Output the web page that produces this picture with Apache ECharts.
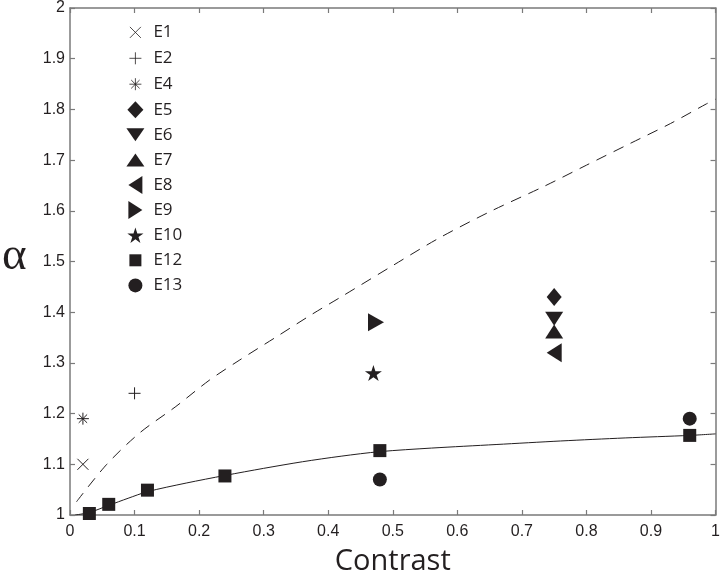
<!DOCTYPE html>
<html>
<head>
<meta charset="utf-8">
<script src="https://cdn.jsdelivr.net/npm/echarts@6/dist/echarts.min.js"></script>
<style>html,body{margin:0;padding:0;background:#fff}#c{width:723px;height:581px}</style>
</head>
<body>
<div id="c"></div>
<script>
// ---- data ----
var xTicks = [0, 0.1, 0.2, 0.3, 0.4, 0.5, 0.6, 0.7, 0.8, 0.9, 1];
var yTicks = [1, 1.1, 1.2, 1.3, 1.4, 1.5, 1.6, 1.7, 1.8, 1.9, 2];

var E1  = [[0.02, 1.10]];
var E2  = [[0.10, 1.24]];
var E4  = [[0.02, 1.19]];
var E5  = [[0.75, 1.43]];
var E6  = [[0.75, 1.387]];
var E7  = [[0.75, 1.362]];
var E8  = [[0.75, 1.32]];
var E9  = [[0.474, 1.38]];
var E10 = [[0.47, 1.28]];
var E12 = [[0.03, 1.003], [0.06, 1.021], [0.12, 1.049], [0.24, 1.077], [0.48, 1.127], [0.96, 1.157]];
var E13 = [[0.48, 1.07], [0.96, 1.19]];

var solidX = [0.008, 0.03, 0.06, 0.09, 0.12, 0.18, 0.24, 0.30, 0.36, 0.42, 0.48, 0.56, 0.66, 0.76, 0.86, 0.96, 1.0];
var solidY = [1.000, 1.005, 1.019, 1.033, 1.046, 1.063, 1.078, 1.092, 1.105, 1.116, 1.125, 1.132, 1.139, 1.146, 1.152, 1.157, 1.160];

var dashX = [0.01, 0.057, 0.108, 0.164, 0.216, 0.262, 0.318, 0.375, 0.421, 0.50, 0.570, 0.65, 0.734, 0.80, 0.868, 0.93, 0.986, 1.0];
var dashY = [1.026, 1.100, 1.162, 1.214, 1.266, 1.305, 1.350, 1.396, 1.431, 1.492, 1.545, 1.598, 1.648, 1.690, 1.733, 1.772, 1.811, 1.820];

// ---- styling ----
var INK = '#231f20';
var AXIS = '#7a7a7a';
var SYM = {
  E1: 'path://M0,0L10,10M10,0L0,10',
  E2: 'path://M5,0L5,10M0,5L10,5',
  E4: 'path://M5,0L5,10M0,5L10,5M1.5,1.5L8.5,8.5M8.5,1.5L1.5,8.5',
  E5: 'path://M5,0L10,6L5,12L0,6Z',
  E6: 'path://M0,0L10,0L5,8Z',
  E7: 'path://M5,0L10,8L0,8Z',
  E8: 'path://M8,0L8,10L0,5Z',
  E9: 'path://M0,0L8,5L0,10Z',
  E10: 'path://M10,0L12.245,6.91L19.51,6.91L13.63,11.18L15.88,18.09L10,13.82L4.12,18.09L6.37,11.18L0.49,6.91L7.755,6.91Z',
  E12: 'rect',
  E13: 'circle'
};
var SIZE = {
  E1: 11, E2: 12, E4: 12, E5: [15, 18], E6: [18, 14], E7: [18, 14],
  E8: [15, 19], E9: [16, 18], E10: [17, 16], E12: 13, E13: 14
};
// legend icons drawn in a fixed 20x20 box (corner moveTo's pin the box)
var BOX = 'path://M0,0M20,20';
var ICON = {
  E1: BOX + 'M4.5,4.5L15.5,15.5M15.5,4.5L4.5,15.5',
  E2: BOX + 'M10,4L10,16M4,10L16,10',
  E4: BOX + 'M10,4L10,16M4,10L16,10M5.8,5.8L14.2,14.2M14.2,5.8L5.8,14.2',
  E5: BOX + 'M10,1.5L18,10L10,18.5L2,10Z',
  E6: BOX + 'M1,3.5L19,3.5L10,16.5Z',
  E7: BOX + 'M10,3.5L19,16.5L1,16.5Z',
  E8: BOX + 'M3,10L17,1L17,19Z',
  E9: BOX + 'M3,1L17,10L3,19Z',
  E10: BOX + 'M10,2.31L11.91,8.18L18.08,8.18L13.09,11.81L15,17.68L10,14.05L5,17.68L6.91,11.81L1.92,8.18L8.09,8.18Z',
  E12: BOX + 'M4,4L16,4L16,16L4,16Z',
  E13: BOX + 'M3,10A7,7 0 1,1 17,10A7,7 0 1,1 3,10Z'
};
var LINEONLY = {E1: true, E2: true, E4: true};

function zip(xs, ys) { return xs.map(function (x, i) { return [x, ys[i]]; }); }

var markerSets = [['E1', E1], ['E2', E2], ['E4', E4], ['E5', E5], ['E6', E6], ['E7', E7],
  ['E8', E8], ['E9', E9], ['E10', E10], ['E12', E12], ['E13', E13]];

var series = [
  {type: 'line', name: 'fitSolid', data: zip(solidX, solidY), showSymbol: false, smooth: 0.3,
   lineStyle: {color: INK, width: 1}, silent: true, z: 1},
  {type: 'line', name: 'fitDash', data: zip(dashX, dashY), showSymbol: false, smooth: 0.3,
   lineStyle: {color: INK, width: 1, type: [11, 8]}, silent: true, z: 1}
];
markerSets.forEach(function (m) {
  var n = m[0];
  series.push({
    type: 'scatter', name: n, data: m[1], symbol: SYM[n], symbolSize: SIZE[n], z: 3,
    itemStyle: LINEONLY[n] ? {color: 'rgba(0,0,0,0)', borderColor: INK, borderWidth: 1, opacity: 1}
                           : {color: INK, opacity: 1}
  });
});

var axisCommon = {
  axisLine: {show: true, onZero: false, lineStyle: {color: AXIS, width: 1.5}},
  axisTick: {show: true, inside: true, length: 5, lineStyle: {color: AXIS, width: 1.2}},
  splitLine: {show: false}
};

var chart = echarts.init(document.getElementById('c'), null, {renderer: 'canvas'});
chart.setOption({
  animation: false,
  backgroundColor: '#fff',
  grid: {left: 70, right: 2, top: 6, bottom: 61, containLabel: false},
  legend: {
    orient: 'vertical', left: 125, top: 22, padding: 0, itemWidth: 20, itemHeight: 20, itemGap: 5.1,
    data: markerSets.map(function (m) { return {name: m[0], icon: ICON[m[0]]}; }),
    itemStyle: {borderWidth: 0.8},
    textStyle: {fontFamily: 'Open Sans', fontSize: 17, color: INK, padding: [0, 0, 0, 3]},
    selectedMode: false
  },
  xAxis: [
    Object.assign({type: 'value', position: 'bottom', min: xTicks[0], max: xTicks[xTicks.length - 1], interval: 0.1,
      name: 'Contrast', nameLocation: 'middle', nameGap: 32,
      nameTextStyle: {fontFamily: 'Open Sans', fontSize: 29, color: INK},
      axisLabel: {fontFamily: 'Liberation Sans', fontSize: 16, color: INK, margin: 9,
        formatter: function (v) { return String(+v.toFixed(1)); }}}, axisCommon),
    Object.assign({type: 'value', position: 'top', min: 0, max: 1, interval: 0.1,
      axisLabel: {show: false}}, axisCommon)
  ],
  yAxis: [
    Object.assign({type: 'value', position: 'left', min: yTicks[0], max: yTicks[yTicks.length - 1], interval: 0.1,
      axisLabel: {fontFamily: 'Liberation Sans', fontSize: 16, color: INK, margin: 5,
        formatter: function (v) { return String(+v.toFixed(1)); }}}, axisCommon),
    Object.assign({type: 'value', position: 'right', min: 1, max: 2, interval: 0.1,
      axisLabel: {show: false}}, axisCommon)
  ],
  graphic: [{
    type: 'text', left: 2, top: 233,
    style: {text: 'α', font: '47px "Liberation Serif"', fill: INK}
  }],
  series: series
});
</script>
</body>
</html>
